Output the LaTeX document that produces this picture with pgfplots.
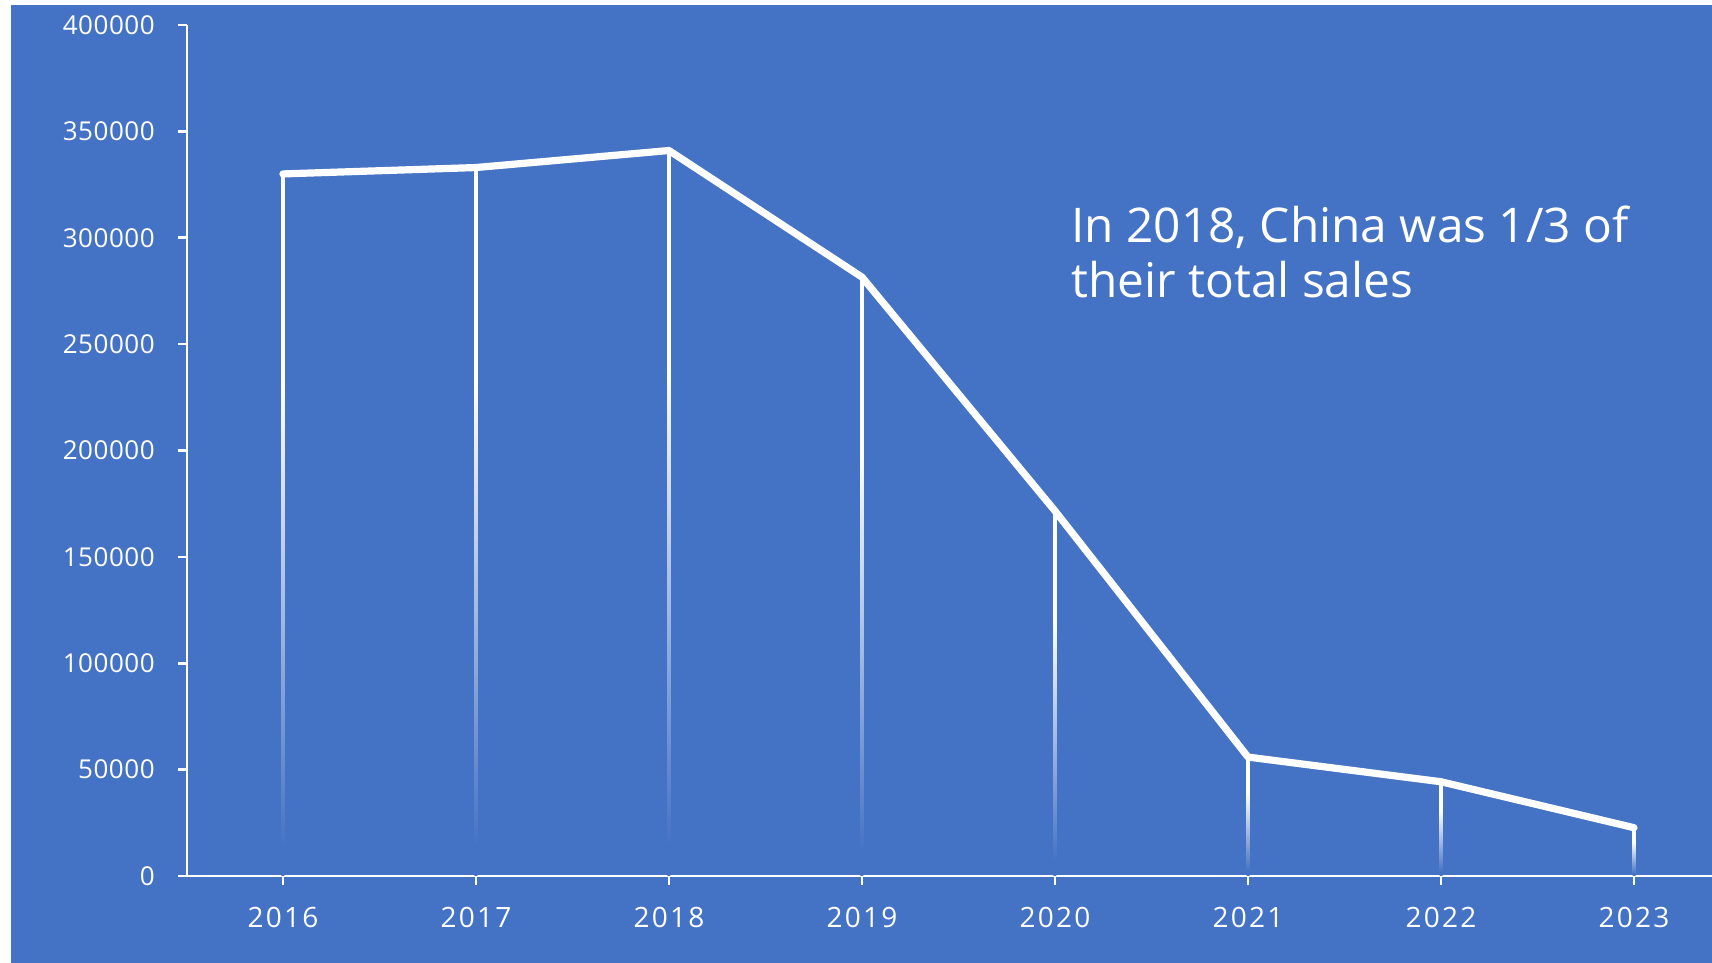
\documentclass[border=0pt]{standalone}
\usepackage{pgfplots}
\pgfplotsset{compat=1.18}
\usepackage{fontspec}
\setmainfont{Open Sans}
\definecolor{bluebg}{HTML}{4472C4}
\pgfdeclareverticalshading{dropshade}{100bp}{color(0bp)=(bluebg); color(27bp)=(bluebg); color(60bp)=(white); color(100bp)=(white)}
\pgfplotsset{dropline/.style={ybar, bar shift=0pt, bar width=1.5bp, draw=none, shade, shading=dropshade, forget plot}}
\begin{document}
\begin{tikzpicture}
\path[use as bounding box] (0,0) rectangle (856bp,481.5bp);
\fill[white] (0,0) rectangle (856bp,481.5bp);
\fill[bluebg] (5.5bp,0) rectangle (856bp,479.2bp);
\begin{axis}[
  at={(93.5bp,43.5bp)}, anchor=south west,
  scale only axis, width=762.5bp, height=425.5bp,
  xmin=2015.503, xmax=2023.404, ymin=0, ymax=400000,
  axis x line=bottom, axis y line=left,
  axis line style={white, line width=1.3bp, -},
  tick align=outside, major tick length=4.5bp,
  tick style={white, line width=1.3bp},
  xtick={2016,...,2023},
  xticklabels={2016,2017,2018,2019,2020,2021,2022,2023},
  ytick={0,50000,...,400000},
  yticklabels={0,50000,100000,150000,200000,250000,300000,350000,400000},
  xticklabel style={white, inner sep=0pt, yshift=-11bp, font=\fontsize{14bp}{16bp}\selectfont\addfontfeature{LetterSpace=8}},
  yticklabel style={white, inner sep=0pt, xshift=-11.5bp, font=\fontsize{13bp}{15bp}\selectfont\addfontfeature{LetterSpace=2}},
  clip=false,
]
\addplot[dropline] coordinates {(2016,330000)};
\addplot[dropline] coordinates {(2017,333000)};
\addplot[dropline] coordinates {(2018,341000)};
\addplot[dropline] coordinates {(2019,281500)};
\addplot[dropline] coordinates {(2020,171600)};
\addplot[dropline] coordinates {(2021,55900)};
\addplot[dropline] coordinates {(2022,44300)};
\addplot[dropline] coordinates {(2023,22700)};
\addplot[white, line width=3.6bp, line cap=round, line join=round, mark=none] coordinates {
  (2016,330000) (2017,333000) (2018,341000) (2019,281500)
  (2020,171600) (2021,55900) (2022,44300) (2023,22700)
};
\end{axis}
\node[anchor=base west, inner sep=0pt, white, font=\fontsize{23.9bp}{28bp}\selectfont] at (535.5bp,360bp) {In 2018, China was 1/3 of};
\node[anchor=base west, inner sep=0pt, white, font=\fontsize{23.9bp}{28bp}\selectfont] at (535.5bp,332.5bp) {their total sales};
\end{tikzpicture}
\end{document}
